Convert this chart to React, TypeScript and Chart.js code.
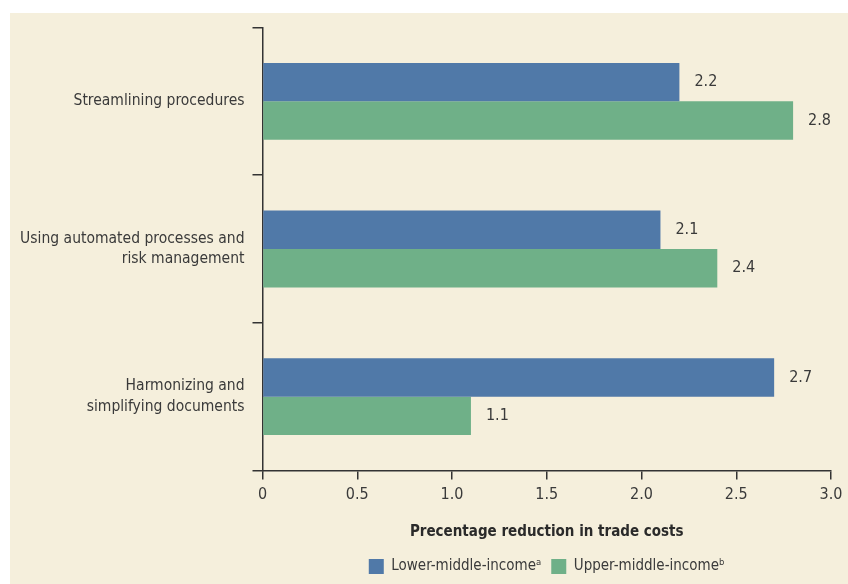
import React, { useEffect, useRef } from "react";
import { Chart, registerables } from "chart.js";

Chart.register(...registerables);

const categories: (string | string[])[] = [
  "Streamlining procedures",
  ["Using automated processes and", "risk management"],
  ["Harmonizing and", "simplifying documents"],
];
const lowerMiddle = [2.2, 2.1, 2.7];
const upperMiddle = [2.8, 2.4, 1.1];
const seriesNames = ["Lower-middle-income\u1D43", "Upper-middle-income\u1D47"];
const xTitle = "Precentage reduction in trade costs";

const FONT = "'DejaVu Sans Condensed', 'Liberation Sans Narrow', 'Roboto', sans-serif";
const TEXT = "#3a3a3a";
const AXIS = "#333333";
const BG = "#f5efdc";

const valueLabels = {
  id: "valueLabels",
  afterDatasetsDraw(chart: any) {
    const ctx = chart.ctx;
    ctx.save();
    ctx.font = `16px ${FONT}`;
    ctx.fillStyle = TEXT;
    ctx.textBaseline = "middle";
    ctx.textAlign = "left";
    chart.data.datasets.forEach((ds: any, i: number) => {
      const meta = chart.getDatasetMeta(i);
      meta.data.forEach((bar: any, j: number) => {
        ctx.fillText(ds.data[j].toFixed(1), bar.x + 15, bar.y);
      });
    });
    ctx.restore();
  },
};

// center the legend under the plot area instead of the whole canvas
const legendOnPlot = {
  id: "legendOnPlot",
  afterLayout(chart: any) {
    const lg = chart.legend;
    if (!lg) return;
    lg.left = chart.chartArea.left;
    lg.right = chart.chartArea.right;
    lg.width = lg.right - lg.left;
  },
};

export default function App() {
  const ref = useRef<HTMLCanvasElement>(null);
  useEffect(() => {
    if (!ref.current) return;
    const chart = new Chart(ref.current, {
      type: "bar",
      data: {
        labels: categories,
        datasets: [
          { label: seriesNames[0], data: lowerMiddle, backgroundColor: "#5079a8" },
          { label: seriesNames[1], data: upperMiddle, backgroundColor: "#6fb088" },
        ],
      },
      options: {
        indexAxis: "y",
        animation: false,
        responsive: false,
        maintainAspectRatio: false,
        layout: { padding: { top: 14.5, right: 17, left: 0, bottom: 0 } },
        datasets: { bar: { categoryPercentage: 0.52, barPercentage: 1 } },
        scales: {
          x: {
            min: 0,
            max: 3,
            border: { color: AXIS, width: 1.5 },
            grid: { drawOnChartArea: false, drawTicks: true, tickLength: 9, color: AXIS, lineWidth: 1.5 },
            ticks: {
              stepSize: 0.5,
              padding: 6,
              color: TEXT,
              font: { family: FONT, size: 16 },
              callback: (v: any) => (Number(v) === 0 ? "0" : Number(v).toFixed(1)),
            },
            title: {
              display: true,
              text: xTitle,
              color: "#2a2a2a",
              font: { family: FONT, size: 15, weight: "bold" },
              padding: { top: 15, bottom: 8 },
            },
            afterFit: (s: any) => {
              s.paddingLeft = 0;
              s.paddingRight = 0;
              s.height = 78.5;
            },
          },
          y: {
            border: { color: AXIS, width: 1.5 },
            grid: { offset: true, drawOnChartArea: false, tickLength: 10, color: AXIS, lineWidth: 1.5 },
            ticks: { padding: 8, color: TEXT, font: { family: FONT, size: 15.5, lineHeight: 1.35 } },
            afterFit: (s: any) => {
              s.width = 252.5;
              s.paddingTop = 0;
              s.paddingBottom = 0;
            },
          },
        },
        plugins: {
          legend: {
            position: "bottom",
            labels: {
              boxWidth: 15,
              boxHeight: 15,
              color: TEXT,
              font: { family: FONT, size: 15 },
              padding: 10,
            },
          },
          tooltip: { enabled: false },
        },
      },
      plugins: [valueLabels, legendOnPlot],
    } as any);
    return () => chart.destroy();
  }, []);
  return (
    <div style={{ position: "fixed", left: 10, top: 13, width: 838, height: 571, background: BG }}>
      <canvas ref={ref} width={838} height={571} style={{ display: "block" }} />
    </div>
  );
}
